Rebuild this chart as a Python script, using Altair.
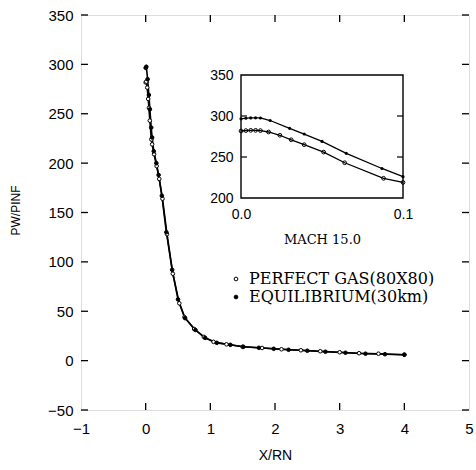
import altair as alt
import pandas as pd

PG = "PERFECT GAS(80X80)"
EQ = "EQUILIBRIUM(30km)"

# main curves
eq_x = [0.0, 0.01, 0.03, 0.05, 0.065, 0.086, 0.10, 0.125, 0.165, 0.20, 0.25, 0.32, 0.41, 0.50, 0.61, 0.77, 0.92,
        1.10, 1.31, 1.51, 1.75, 1.98, 2.21, 2.50, 2.78, 3.09, 3.40, 3.70, 4.00]
eq_y = [296.5, 297.6, 285, 269, 254.5, 236, 226, 212, 200, 188, 167, 130, 92, 62, 43, 31, 23,
        18, 16, 14, 13, 12, 11, 10, 9, 8, 7, 6.5, 6]
pg_x = [0.0, 0.01, 0.024, 0.039, 0.051, 0.064, 0.088, 0.10, 0.13, 0.17, 0.21, 0.26, 0.33, 0.42, 0.52, 0.60, 0.75,
        0.90, 1.05, 1.25, 1.50, 1.80, 2.10, 2.40, 2.70, 3.00, 3.30, 3.60, 4.00]
pg_y = [281.7, 282.5, 276.5, 265, 256, 243, 224, 219, 209, 197, 184, 164, 128, 88, 58, 44, 32,
        24, 19, 16.5, 14, 12.8, 11.5, 10.5, 9.5, 8.5, 7.5, 7, 6]

# inset curves
ins_eq_x = [0.0, 0.003, 0.006, 0.009, 0.012, 0.018, 0.030, 0.039, 0.050, 0.065, 0.087, 0.100]
ins_eq_y = [296.5, 297.3, 297.7, 297.8, 297.6, 294.5, 285, 278, 269, 254.5, 236, 226]
ins_pg_x = [0.0, 0.003, 0.006, 0.009, 0.012, 0.017, 0.024, 0.031, 0.039, 0.051, 0.064, 0.088, 0.100]
ins_pg_y = [281.7, 282.2, 282.5, 282.5, 282.2, 280.5, 276.5, 271, 265, 256, 243, 224, 219]

x_ticks = [-1, 0, 1, 2, 3, 4, 5]
y_ticks = [-50, 0, 50, 100, 150, 200, 250, 300, 350]
x_inner_ticks = [0, 1, 2, 3, 4]
ins_x_domain = [0.0, 0.1]
ins_y_domain = [200, 350]
ins_y_ticks = [200, 250, 300, 350]
ins_y_inner = [250, 300]

W, H = 388, 395
INS_L, INS_R, INS_T, INS_B = 160, 322, 60, 183
TICK = 7

SANS = "Liberation Sans"
SERIF = "DejaVu Serif"

main_df = pd.concat([
    pd.DataFrame({"x": pg_x, "y": pg_y, "series": PG}),
    pd.DataFrame({"x": eq_x, "y": eq_y, "series": EQ}),
])
ins_df_pg = pd.DataFrame({"x": ins_pg_x, "y": ins_pg_y})
ins_df_eq = pd.DataFrame({"x": ins_eq_x, "y": ins_eq_y})

xs = alt.Scale(domain=[x_ticks[0], x_ticks[-1]], nice=False, zero=False)
ys = alt.Scale(domain=[y_ticks[0], y_ticks[-1]], nice=False, zero=False)

x_axis = alt.Axis(values=x_ticks, title="X/RN", domain=False, ticks=False, grid=False,
                  labelFont=SANS, labelFontSize=15, labelColor="black", labelPadding=11,
                  labelFlush=False, titleFont=SANS, titleFontSize=14, titleFontWeight="normal",
                  titleColor="black", titleY=45, titleBaseline="middle", format="d")
y_axis = alt.Axis(values=y_ticks, title="PW/PINF", domain=False, ticks=False, grid=False,
                  labelFont=SANS, labelFontSize=15, labelColor="black", labelPadding=8,
                  labelFlush=False, titleFont=SANS, titleFontSize=12, titleFontWeight="normal",
                  titleColor="black", titleX=-66, titleY=195, titleBaseline="middle",
                  titleAlign="center", format="d")

lines = alt.Chart(main_df).mark_line(color="black", strokeWidth=1.6).encode(
    x=alt.X("x:Q", scale=xs, axis=x_axis),
    y=alt.Y("y:Q", scale=ys, axis=y_axis),
    detail="series:N",
)
points = alt.Chart(main_df).mark_point(shape="circle", stroke="black", strokeWidth=1, opacity=1, size=13).encode(
    x=alt.X("x:Q", scale=xs, axis=x_axis),
    y=alt.Y("y:Q", scale=ys, axis=y_axis),
    fill=alt.Fill("series:N", scale=alt.Scale(domain=[PG, EQ], range=["white", "black"]),
                  legend=alt.Legend(orient="none", legendX=147, legendY=256, title=None,
                                    labelFont=SERIF, labelFontSize=16, labelColor="black",
                                    labelLimit=0,
                                    symbolType="circle", symbolSize=14, symbolStrokeColor="black",
                                    symbolStrokeWidth=1, labelOffset=5, rowPadding=2, padding=0)),
)

ytick_df = pd.DataFrame({"v": y_ticks})
xtick_df = pd.DataFrame({"v": x_inner_ticks})
tick_l = alt.Chart(ytick_df).mark_rule(color="black", strokeWidth=1.3).encode(
    y=alt.Y("v:Q", scale=ys, axis=y_axis), x=alt.value(0), x2=alt.value(TICK))
tick_r = alt.Chart(ytick_df).mark_rule(color="black", strokeWidth=1.3).encode(
    y=alt.Y("v:Q", scale=ys, axis=y_axis), x=alt.value(W), x2=alt.value(W - TICK))
tick_t = alt.Chart(xtick_df).mark_rule(color="black", strokeWidth=1.3).encode(
    x=alt.X("v:Q", scale=xs, axis=x_axis), y=alt.value(0), y2=alt.value(TICK))
tick_b = alt.Chart(xtick_df).mark_rule(color="black", strokeWidth=1.3).encode(
    x=alt.X("v:Q", scale=xs, axis=x_axis), y=alt.value(H), y2=alt.value(H - TICK))

main = alt.layer(lines, points, tick_l, tick_r, tick_t, tick_b)

# ---- inset ----
ixs = alt.Scale(domain=ins_x_domain, range=[INS_L, INS_R], nice=False, zero=False)
iys = alt.Scale(domain=ins_y_domain, range=[INS_B, INS_T], nice=False, zero=False)
ix_axis = alt.Axis(orient="bottom", offset=-(H - INS_B), values=ins_x_domain, format=".1f",
                   domain=False, ticks=False, grid=False, labelFont=SANS, labelFontSize=14,
                   labelColor="black", labelPadding=9, labelFlush=False, title="MACH  15.0",
                   titleFont=SERIF, titleFontSize=13, titleFontWeight="normal", titleColor="black",
                   titlePadding=12)
iy_axis = alt.Axis(orient="left", offset=-INS_L, values=ins_y_ticks, format="d",
                   domain=False, ticks=False, grid=False, labelFont=SANS, labelFontSize=14,
                   labelColor="black", labelPadding=8, labelFlush=False, title=None)

frame_df = pd.DataFrame({"x0": [ins_x_domain[0]], "x1": [ins_x_domain[1]],
                         "y0": [ins_y_domain[0]], "y1": [ins_y_domain[1]]})
frame = alt.Chart(frame_df).mark_rect(fill="white", stroke="black", strokeWidth=1.4).encode(
    x=alt.X("x0:Q", scale=ixs, axis=ix_axis), x2="x1:Q",
    y=alt.Y("y0:Q", scale=iys, axis=iy_axis), y2="y1:Q")

ins_line_eq = alt.Chart(ins_df_eq).mark_line(color="black", strokeWidth=1.3).encode(
    x=alt.X("x:Q", scale=ixs, axis=ix_axis), y=alt.Y("y:Q", scale=iys, axis=iy_axis))
ins_line_pg = alt.Chart(ins_df_pg).mark_line(color="black", strokeWidth=1.3).encode(
    x=alt.X("x:Q", scale=ixs, axis=ix_axis), y=alt.Y("y:Q", scale=iys, axis=iy_axis))
ins_pt_eq = alt.Chart(ins_df_eq).mark_point(shape="circle", filled=True, color="black", size=10, opacity=1).encode(
    x=alt.X("x:Q", scale=ixs, axis=ix_axis), y=alt.Y("y:Q", scale=iys, axis=iy_axis))
ins_pt_pg = alt.Chart(ins_df_pg).mark_point(shape="circle", filled=False, color="black", size=14,
                                            strokeWidth=1, opacity=1).encode(
    x=alt.X("x:Q", scale=ixs, axis=ix_axis), y=alt.Y("y:Q", scale=iys, axis=iy_axis))

itick_df = pd.DataFrame({"v": ins_y_inner})
itick_l = alt.Chart(itick_df).mark_rule(color="black", strokeWidth=1.2).encode(
    y=alt.Y("v:Q", scale=iys, axis=iy_axis), x=alt.value(INS_L), x2=alt.value(INS_L + 6))
itick_r = alt.Chart(itick_df).mark_rule(color="black", strokeWidth=1.2).encode(
    y=alt.Y("v:Q", scale=iys, axis=iy_axis), x=alt.value(INS_R), x2=alt.value(INS_R - 6))

inset = alt.layer(frame, ins_line_pg, ins_line_eq, ins_pt_pg, ins_pt_eq, itick_l, itick_r)

chart = alt.layer(main, inset).resolve_scale(x="independent", y="independent").resolve_axis(
    x="independent", y="independent"
).properties(
    width=W, height=H, autosize="none",
    padding={"left": 81, "top": 15, "right": 476 - 81 - W, "bottom": 470 - 15 - H},
).configure_view(stroke="black", strokeWidth=1.6).configure(background="white")

chart.save("out.html", embed_options={"renderer": "svg", "actions": False})
